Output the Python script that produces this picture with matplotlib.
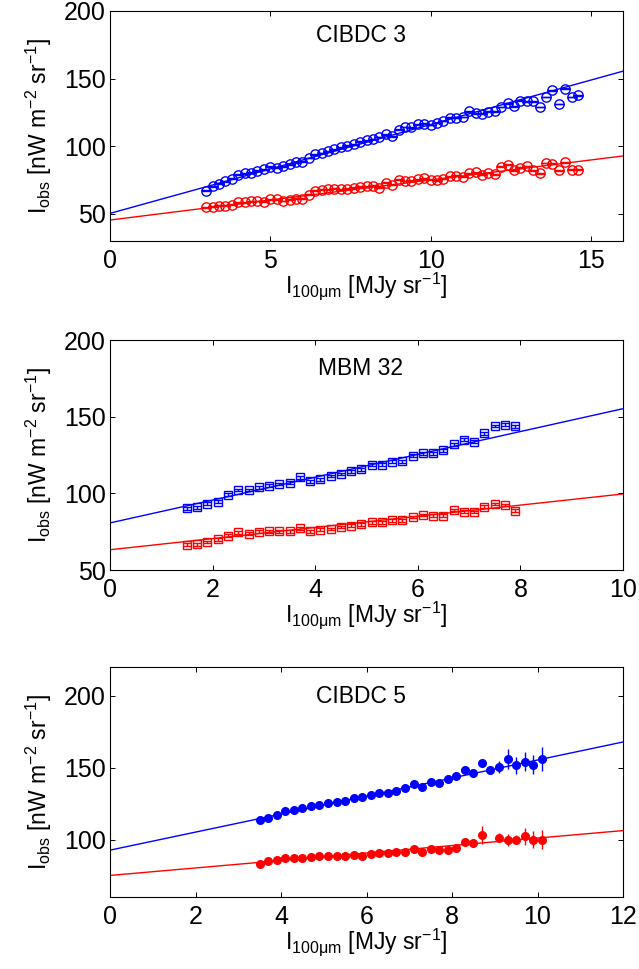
"""
Linear fits of I_obs against I_100um for three clouds.
"""

import matplotlib.pyplot as plt
import numpy as np


# ==========================================================
# Data
# ==========================================================

# CIBDC 3 (open circles)
c3_x = [3.0, 3.2, 3.4, 3.6, 3.8, 4.0, 4.2, 4.4, 4.6, 4.8,
        5.0, 5.2, 5.4, 5.6, 5.8, 6.0, 6.2, 6.4, 6.6, 6.8,
        7.0, 7.2, 7.4, 7.6, 7.8, 8.0, 8.2, 8.4, 8.6, 8.8,
        9.0, 9.2, 9.4, 9.6, 9.8, 10.0, 10.2, 10.4, 10.6, 10.8,
        11.0, 11.2, 11.4, 11.6, 11.8, 12.0, 12.2, 12.4, 12.6, 12.8,
        13.0, 13.2, 13.4, 13.6, 13.8, 14.0, 14.2, 14.4, 14.6]
c3_blue = [67.3, 70.5, 72.5, 74.2, 75.9, 78.9, 79.9, 80.6, 82.1, 83.0,
           84.8, 84.3, 85.3, 86.7, 88.2, 88.7, 91.4, 94.1, 95.1, 96.3,
           97.8, 99.3, 100.5, 101.5, 103.4, 104.4, 105.4, 106.9, 108.8, 107.4,
           112.3, 114.3, 114.0, 116.2, 116.7, 115.7, 117.2, 118.7, 121.1, 121.1,
           121.6, 125.8, 124.3, 124.1, 125.6, 126.0, 129.0, 131.9, 129.5, 133.7,
           133.2, 133.2, 129.0, 136.4, 141.3, 131.2, 142.5, 136.4, 137.6]
c3_red = [54.8, 55.3, 56.0, 56.0, 56.8, 58.7, 58.7, 59.2, 59.5, 59.0,
          60.9, 60.7, 59.5, 60.4, 61.4, 61.4, 64.1, 67.1, 67.8, 68.1,
          68.6, 68.1, 68.6, 69.5, 70.0, 70.5, 70.8, 69.5, 73.0, 71.7,
          75.4, 74.4, 74.7, 75.7, 76.4, 75.2, 74.9, 75.9, 77.9, 78.4,
          77.4, 79.9, 80.8, 78.9, 80.3, 79.4, 84.8, 86.5, 82.3, 84.3,
          85.5, 82.3, 79.9, 87.7, 87.2, 82.3, 88.2, 82.8, 82.8]
c3_err = 0.3
c3_fit_blue = (50.4, 6.57)   # intercept, slope
c3_fit_red = (45.5, 2.96)

# MBM 32 (open squares)
m32_x = [1.5, 1.7, 1.9, 2.1, 2.3, 2.5, 2.7, 2.9, 3.1, 3.3,
         3.5, 3.7, 3.9, 4.1, 4.3, 4.5, 4.7, 4.9, 5.1, 5.3,
         5.5, 5.7, 5.9, 6.1, 6.3, 6.5, 6.7, 6.9, 7.1, 7.3,
         7.5, 7.7, 7.9]
m32_blue = [90.3, 90.9, 93.3, 94.6, 99.1, 102.2, 102.2, 103.9, 105.0, 106.1,
            106.9, 110.4, 107.8, 109.1, 111.3, 112.6, 114.3, 115.6, 118.6, 118.6,
            120.6, 121.0, 124.5, 126.2, 126.2, 128.1, 132.0, 135.1, 133.8, 139.2,
            143.9, 144.8, 143.7]
m32_red = [66.5, 66.7, 68.2, 70.1, 72.5, 74.7, 73.8, 74.9, 75.3, 75.3,
           75.3, 77.1, 75.3, 76.4, 76.8, 78.1, 78.8, 79.7, 81.0, 81.2,
           82.5, 82.3, 84.6, 85.9, 85.5, 85.5, 89.2, 88.1, 87.9, 91.3,
           93.1, 92.4, 88.7]
m32_err = 0.9
m32_fit_blue = (80.7, 7.45)
m32_fit_red = (63.2, 3.64)

# CIBDC 5 (filled circles)
c5_x_blue = [3.5, 3.7, 3.9, 4.1, 4.3, 4.5, 4.7, 4.9, 5.1, 5.3,
             5.5, 5.7, 5.9, 6.1, 6.3, 6.5, 6.7, 6.9, 7.1, 7.3,
             7.5, 7.7, 7.9, 8.1, 8.3, 8.5, 8.7, 8.9, 9.1, 9.3,
             9.5, 9.7, 9.9, 10.1]
c5_blue = [113.7, 115.3, 117.1, 119.9, 120.6, 121.8, 123.1, 124.1, 125.5, 125.9,
           127.1, 129.2, 129.4, 131.0, 132.4, 132.4, 133.8, 135.6, 138.7, 136.6,
           140.3, 139.4, 141.9, 144.4, 148.1, 146.5, 153.2, 148.6, 150.5, 156.0,
           151.6, 154.2, 152.1, 156.2]
c5_blue_err = [0.5, 0.5, 0.5, 0.5, 0.5, 0.5, 0.5, 0.5, 0.5, 0.5,
               0.5, 0.5, 0.5, 0.5, 0.5, 0.6, 0.6, 0.7, 0.8, 0.8,
               0.9, 1.0, 1.1, 1.2, 1.4, 1.6, 2.0, 2.5, 3.9, 7.0,
               5.8, 6.5, 6.6, 8.4]
c5_x_red = [3.5, 3.7, 3.9, 4.1, 4.3, 4.5, 4.7, 4.9, 5.1, 5.3,
            5.5, 5.7, 5.9, 6.1, 6.3, 6.5, 6.7, 6.9, 7.1, 7.3,
            7.5, 7.7, 7.9, 8.1, 8.3, 8.5, 8.7, 9.1, 9.3,
            9.5, 9.7, 9.9, 10.1]
c5_red = [83.1, 85.0, 85.4, 86.8, 86.8, 87.3, 87.5, 88.2, 88.2, 88.2,
          88.4, 89.1, 88.7, 90.0, 90.5, 90.5, 91.2, 91.4, 93.1, 91.4,
          93.3, 92.4, 92.8, 93.8, 98.1, 97.7, 103.2, 101.2, 99.8,
          100.0, 102.3, 100.0, 100.0]
c5_red_err = [0.5, 0.5, 0.5, 0.5, 0.5, 0.5, 0.5, 0.5, 0.5, 0.5,
              0.5, 0.5, 0.5, 0.5, 0.5, 0.6, 0.6, 0.7, 0.8, 0.8,
              0.9, 1.0, 1.1, 1.2, 1.4, 1.6, 6.0, 3.0, 4.0,
              3.0, 6.0, 6.0, 6.5]
c5_fit_blue = (92.6, 6.27)
c5_fit_red = (75.0, 2.6)


# ==========================================================
# Style
# ==========================================================

plt.rcParams["font.family"] = "Liberation Sans"
plt.rcParams["mathtext.fontset"] = "custom"
plt.rcParams["mathtext.rm"] = "Liberation Sans"
plt.rcParams["mathtext.it"] = "Liberation Sans:italic"
plt.rcParams["mathtext.bf"] = "Liberation Sans:bold"

FS = 16.5        # labels and cloud names
FS_TICK = 18     # tick numbers
YLABEL = r"I$_{\mathrm{obs}}$ [nW m$^{-2}$ sr$^{-1}$]"
XLABEL = r"I$_{\mathrm{100\mu m}}$ [MJy sr$^{-1}$]"


# ==========================================================
# Panel
# ==========================================================

def panel(ax, name, xlim, ylim, xticks, yticks, series, fits, name_pos):
    """
    One cloud: two data series with error bars plus their fitted lines.
    """

    xs = np.array(xlim, dtype=float)

    for (a, b), color in zip(fits, ["blue", "red"]):
        ax.plot(xs, a + b * xs, color=color, lw=1.0, zorder=1)

    for x, y, err, color, kw in series:
        ax.errorbar(
            x, y, yerr=err,
            color=color,
            ecolor=color,
            elinewidth=1.0,
            zorder=2,
            linestyle="none",
            **kw,
        )

    ax.set_xlim(xlim)
    ax.set_ylim(ylim)
    ax.set_xticks(xticks)
    ax.set_yticks(yticks)

    ax.tick_params(
        direction="in",
        top=True,
        right=True,
        length=3.5,
        width=0.7,
        labelsize=FS_TICK,
    )
    ax.tick_params(axis="x", pad=6)
    ax.tick_params(axis="y", pad=3)
    for s in ax.spines.values():
        s.set_linewidth(0.8)

    ax.set_xlabel(XLABEL, fontsize=FS, labelpad=-2)
    ax.set_ylabel(YLABEL, fontsize=FS, labelpad=7)

    ax.text(
        name_pos[0], name_pos[1], name,
        transform=ax.transAxes,
        fontsize=FS,
        ha="center",
        va="baseline",
    )


fig = plt.figure(figsize=(6.39, 9.69), dpi=100)

left = 110 / 639
width = 513 / 639
height = 230 / 969

ax1 = fig.add_axes([left, 1 - 241 / 969, width, height])
ax2 = fig.add_axes([left, 1 - 570 / 969, width, height])
ax3 = fig.add_axes([left, 1 - 897 / 969, width, height])

circle = dict(marker="o", markersize=6.7, mfc="none", mew=1.0, capsize=3.3, capthick=1.0)
square = dict(marker="s", markersize=6.3, mfc="none", mew=1.0, capsize=3.1, capthick=1.0)
dot = dict(marker="o", markersize=5.5, capsize=0)

panel(
    ax1, "CIBDC 3", (0, 16), (30, 200), [0, 5, 10, 15], [50, 100, 150, 200],
    [(c3_x, c3_blue, c3_err, "blue", circle),
     (c3_x, c3_red, c3_err, "red", circle)],
    [c3_fit_blue, c3_fit_red],
    (0.49, 0.865),
)

panel(
    ax2, "MBM 32", (0, 10), (50, 200), [0, 2, 4, 6, 8, 10], [50, 100, 150, 200],
    [(m32_x, m32_blue, m32_err, "blue", square),
     (m32_x, m32_red, m32_err, "red", square)],
    [m32_fit_blue, m32_fit_red],
    (0.488, 0.848),
)

panel(
    ax3, "CIBDC 5", (0, 12), (60, 220), [0, 2, 4, 6, 8, 10, 12], [100, 150, 200],
    [(c5_x_blue, c5_blue, c5_blue_err, "blue", dot),
     (c5_x_red, c5_red, c5_red_err, "red", dot)],
    [c5_fit_blue, c5_fit_red],
    (0.489, 0.843),
)

fig.savefig("out.png", dpi=100)
plt.close(fig)
